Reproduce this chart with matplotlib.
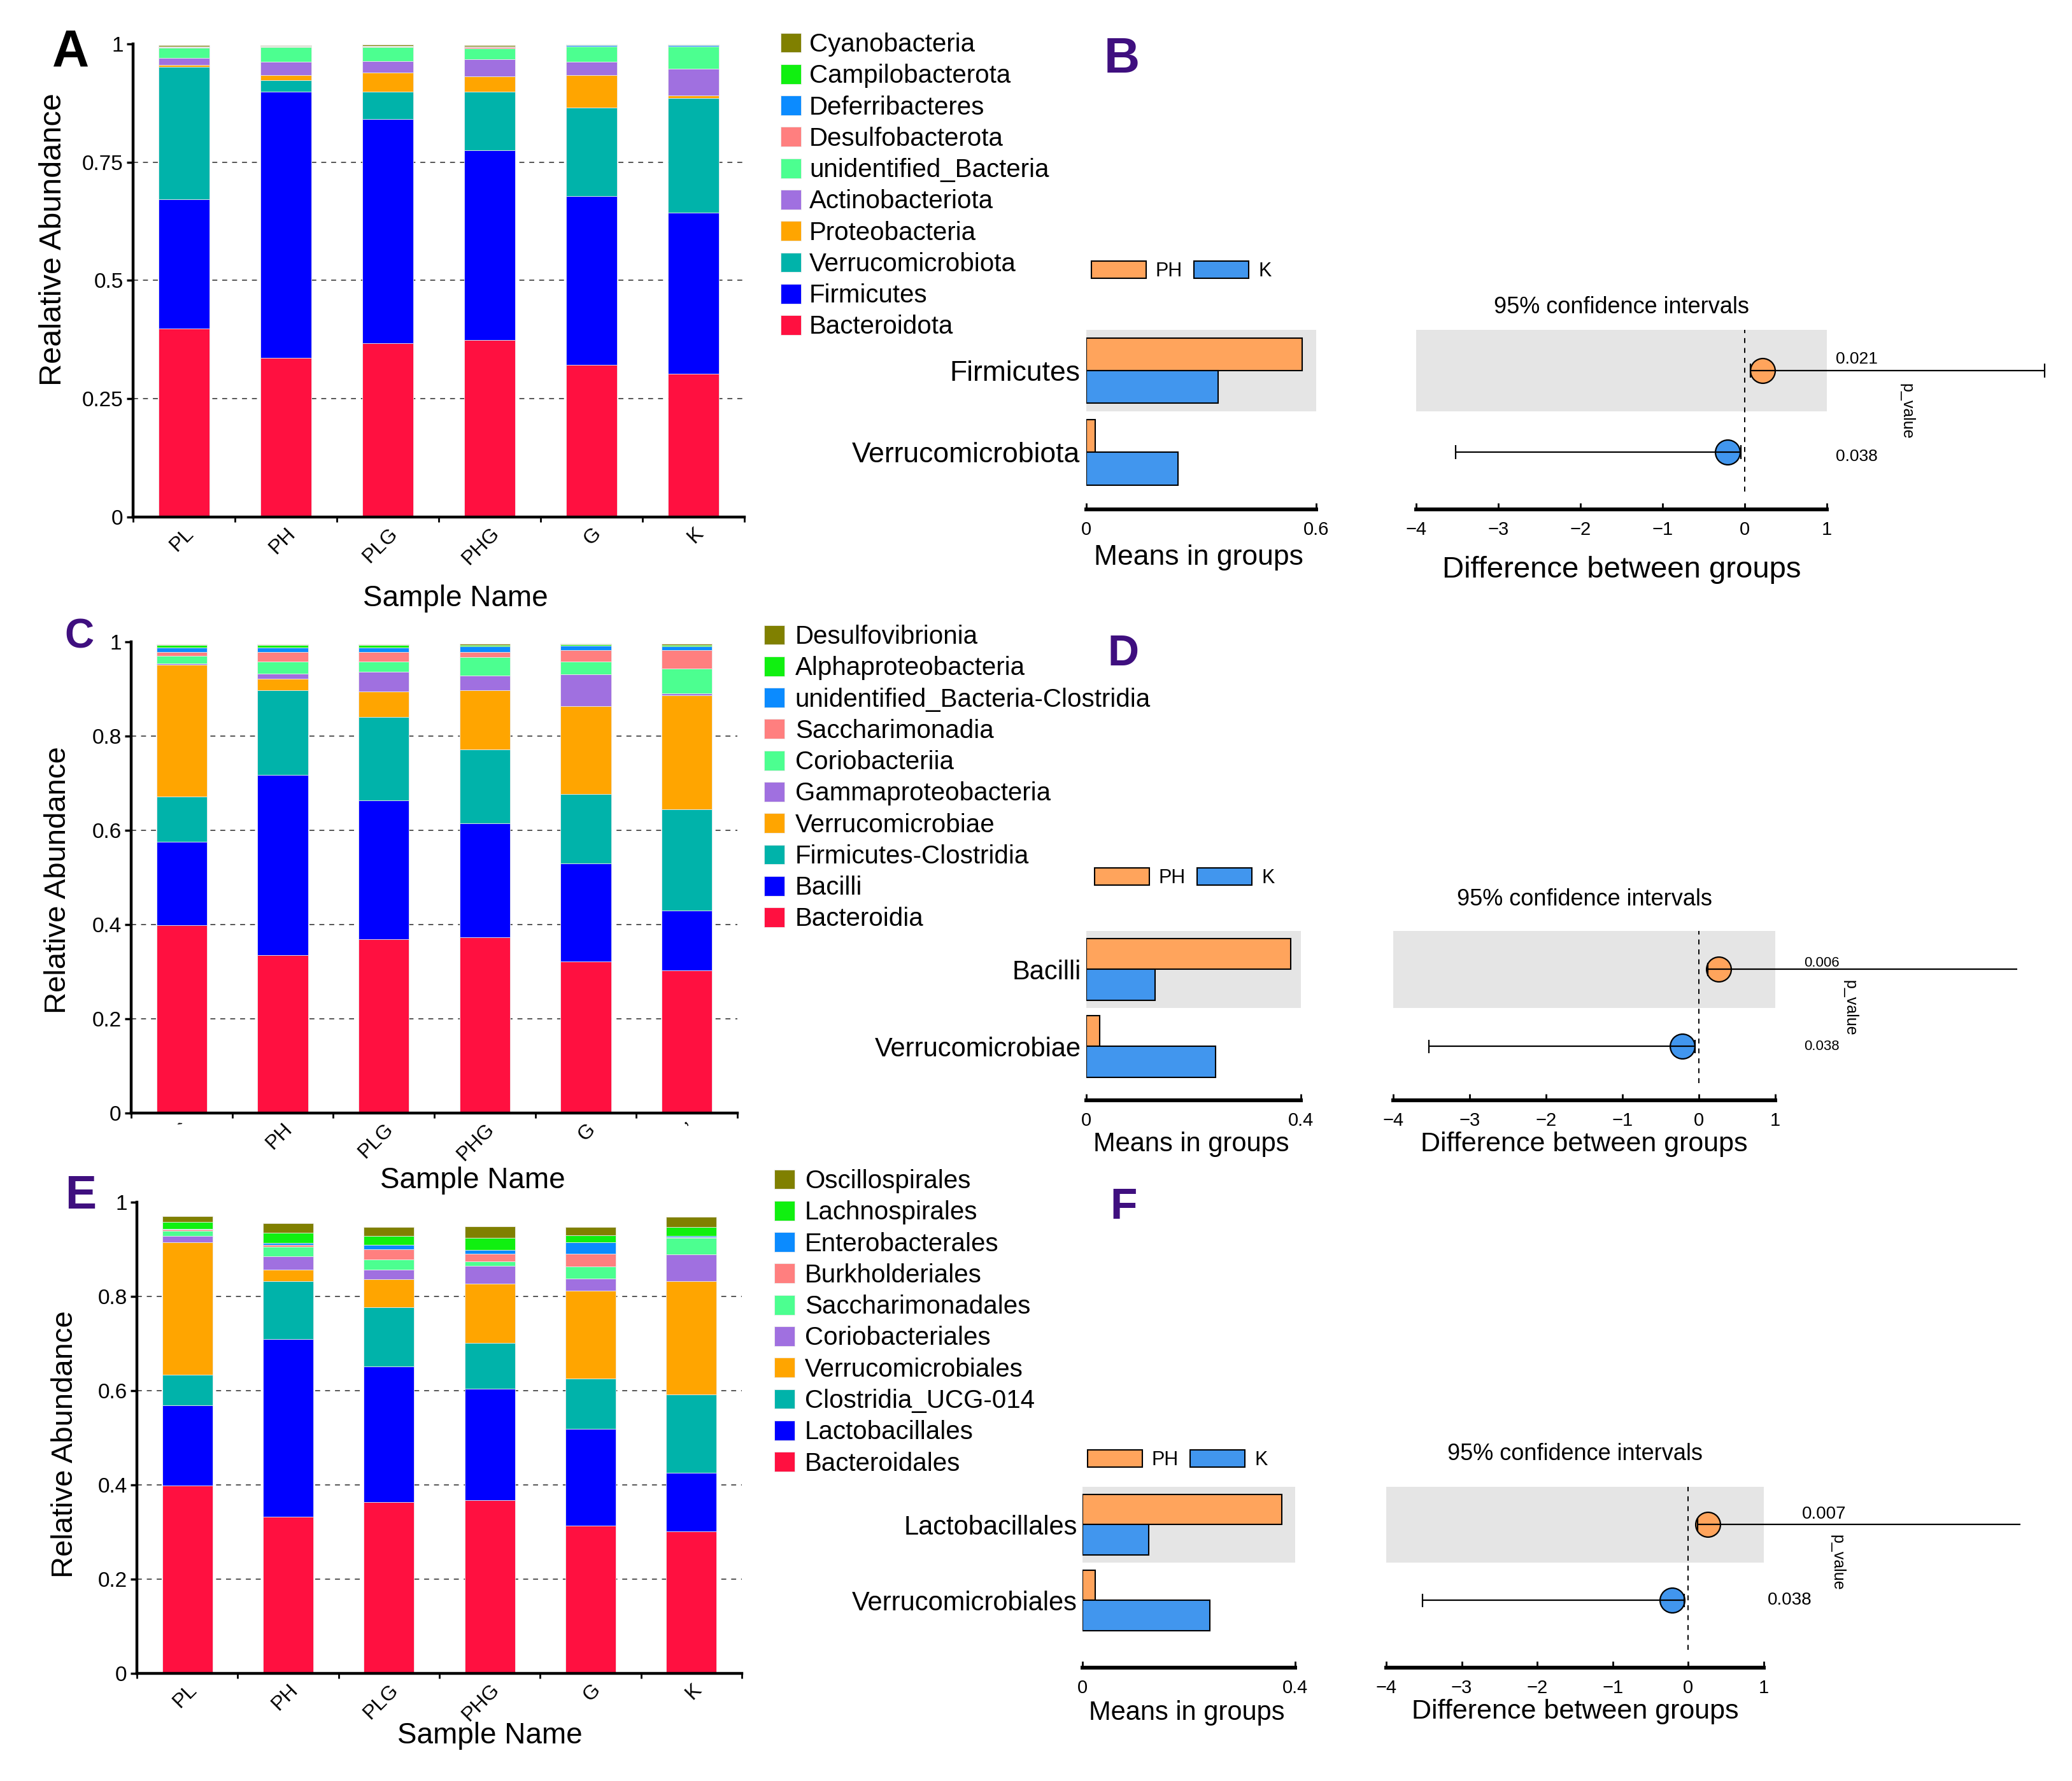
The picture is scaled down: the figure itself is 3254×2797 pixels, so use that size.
import numpy as np
import matplotlib
matplotlib.use('Agg')
import matplotlib.pyplot as plt
from matplotlib.patches import Patch
import matplotlib.transforms as mtransforms

plt.rcParams['font.family'] = ['Liberation Sans', 'DejaVu Sans']

W, H = 3255, 2797

# ---------------- data ----------------
samples = ['PL', 'PH', 'PLG', 'PHG', 'G', 'K']
samples_c = ['`', 'PH', 'PLG', 'PHG', 'G', 'ʼ']

palette = ['#FF1040', '#0000FF', '#00B3AA', '#FFA500', '#A070E0',
           '#4CFF90', '#FF7F7F', '#0B8BFF', '#10F010', '#808000']

# Panel A (phylum), bottom to top
A_names = ['Bacteroidota', 'Firmicutes', 'Verrucomicrobiota', 'Proteobacteria',
           'Actinobacteriota', 'unidentified_Bacteria', 'Desulfobacterota',
           'Deferribacteres', 'Campilobacterota', 'Cyanobacteria']
A_Bacteroidota = [0.399, 0.337, 0.368, 0.374, 0.322, 0.303]
A_Firmicutes = [0.273, 0.562, 0.473, 0.401, 0.357, 0.341]
A_Verrucomicrobiota = [0.279, 0.024, 0.058, 0.124, 0.186, 0.242]
A_Proteobacteria = [0.004, 0.011, 0.041, 0.033, 0.069, 0.005]
A_Actinobacteriota = [0.016, 0.028, 0.023, 0.036, 0.028, 0.056]
A_unidentified_Bacteria = [0.021, 0.031, 0.030, 0.023, 0.032, 0.047]
A_Desulfobacterota = [0.001, 0.001, 0.001, 0.002, 0.001, 0.001]
A_Deferribacteres = [0.001, 0.001, 0.001, 0.001, 0.002, 0.002]
A_Campilobacterota = [0.001, 0.001, 0.001, 0.001, 0.001, 0.001]
A_Cyanobacteria = [0.002, 0.001, 0.002, 0.002, 0.001, 0.001]

# Panel C (class)
C_names = ['Bacteroidia', 'Bacilli', 'Firmicutes-Clostridia', 'Verrucomicrobiae',
           'Gammaproteobacteria', 'Coriobacteriia', 'Saccharimonadia',
           'unidentified_Bacteria-Clostridia', 'Alphaproteobacteria', 'Desulfovibrionia']
C_Bacteroidia = [0.398, 0.335, 0.368, 0.373, 0.321, 0.303]
C_Bacilli = [0.177, 0.383, 0.296, 0.241, 0.209, 0.126]
C_Firmicutes_Clostridia = [0.096, 0.179, 0.176, 0.158, 0.147, 0.215]
C_Verrucomicrobiae = [0.280, 0.024, 0.054, 0.125, 0.187, 0.243]
C_Gammaproteobacteria = [0.003, 0.012, 0.043, 0.031, 0.067, 0.003]
C_Coriobacteriia = [0.016, 0.025, 0.021, 0.040, 0.027, 0.053]
C_Saccharimonadia = [0.009, 0.021, 0.021, 0.011, 0.025, 0.039]
C_unidentified_Bacteria_Clostridia = [0.009, 0.009, 0.009, 0.011, 0.009, 0.008]
C_Alphaproteobacteria = [0.005, 0.005, 0.005, 0.003, 0.002, 0.003]
C_Desulfovibrionia = [0.002, 0.002, 0.002, 0.003, 0.002, 0.003]

# Panel E (order)
E_names = ['Bacteroidales', 'Lactobacillales', 'Clostridia_UCG-014', 'Verrucomicrobiales',
           'Coriobacteriales', 'Saccharimonadales', 'Burkholderiales',
           'Enterobacterales', 'Lachnospirales', 'Oscillospirales']
E_Bacteroidales = [0.398, 0.333, 0.363, 0.367, 0.313, 0.302]
E_Lactobacillales = [0.171, 0.376, 0.288, 0.237, 0.206, 0.124]
E_Clostridia_UCG_014 = [0.065, 0.123, 0.126, 0.098, 0.107, 0.166]
E_Verrucomicrobiales = [0.281, 0.025, 0.059, 0.125, 0.186, 0.240]
E_Coriobacteriales = [0.013, 0.028, 0.021, 0.038, 0.026, 0.057]
E_Saccharimonadales = [0.011, 0.020, 0.021, 0.010, 0.025, 0.036]
E_Burkholderiales = [0.003, 0.005, 0.022, 0.015, 0.028, 0.001]
E_Enterobacterales = [0.001, 0.003, 0.009, 0.009, 0.024, 0.002]
E_Lachnospirales = [0.015, 0.022, 0.019, 0.026, 0.015, 0.019]
E_Oscillospirales = [0.012, 0.021, 0.019, 0.024, 0.017, 0.022]

# STAMP panels
B_cats = ['Firmicutes', 'Verrucomicrobiota']
B_PH = [0.563, 0.024]
B_K = [0.344, 0.239]
B_diff = [0.22, -0.21]
B_lo = [0.07, -3.52]
B_hi = [3.65, -0.05]
B_p = ['0.021', '0.038']

D_cats = ['Bacilli', 'Verrucomicrobiae']
D_PH = [0.381, 0.025]
D_K = [0.128, 0.241]
D_diff = [0.26, -0.22]
D_lo = [0.12, -3.53]
D_hi = [4.17, -0.05]
D_p = ['0.006', '0.038']

F_cats = ['Lactobacillales', 'Verrucomicrobiales']
F_PH = [0.375, 0.024]
F_K = [0.125, 0.239]
F_diff = [0.26, -0.21]
F_lo = [0.12, -3.52]
F_hi = [4.40, -0.05]
F_p = ['0.007', '0.038']

ORANGE = '#FFA45C'
BLUE = '#4196EE'
PURPLE = '#3F0F7F'

fig = plt.figure(figsize=(W / 100, H / 100), dpi=100)


def frac(x0, y0, x1, y1):
    return [x0 / W, 1 - y1 / H, (x1 - x0) / W, (y1 - y0) / H]


def stacked(rect, series, names, xlabels, yticks, yticklabels, ylabel,
            ylab_xy, xlab_xy, ylab_size, xlab_size, leg_xy, leg_pad):
    ax = fig.add_axes(rect)
    x = np.arange(len(samples))
    bottom = np.zeros(len(samples))
    handles = []
    for vals, col in zip(series, palette):
        v = np.array(vals)
        h = ax.bar(x, v, 0.5, bottom=bottom, color=col, edgecolor='#ececec',
                   linewidth=0.6, zorder=2)
        bottom = bottom + v
        handles.append(h)
    ax.set_xlim(-0.5, len(samples) - 0.5)
    ax.set_ylim(0, 1)
    for t in yticks[1:-1]:
        ax.axhline(t, color='#555555', lw=1.4, ls=(0, (4, 4)), zorder=1)
    ax.set_yticks(yticks)
    ax.set_yticklabels(yticklabels, fontsize=24)
    ax.set_xticks(x)
    ax.set_xticklabels(xlabels, fontsize=23, rotation=45, ha='right', va='top',
                       rotation_mode='anchor')
    ax.set_xticks(np.arange(-0.5, len(samples), 1.0), minor=True)
    ax.tick_params(axis='x', which='major', length=0, pad=8)
    ax.tick_params(axis='x', which='minor', length=6, width=2, direction='out')
    ax.tick_params(axis='y', length=7, width=2.5, direction='out', pad=4)
    for s in ['top', 'right']:
        ax.spines[s].set_visible(False)
    for s in ['left', 'bottom']:
        ax.spines[s].set_linewidth(3.2)
    ax.set_ylabel(ylabel, fontsize=ylab_size)
    ax.yaxis.label.set_va('baseline')
    ax.yaxis.set_label_coords(*ylab_xy)
    ax.set_xlabel('Sample Name', fontsize=xlab_size)
    ax.xaxis.label.set_va('baseline')
    ax.xaxis.set_label_coords(*xlab_xy)
    fig.legend(handles[::-1], names[::-1], loc='upper left',
               bbox_to_anchor=leg_xy, bbox_transform=fig.transFigure,
               frameon=False, fontsize=29, handlelength=0.8, handleheight=0.8,
               handletextpad=leg_pad, labelspacing=0.28, borderpad=0,
               borderaxespad=0)
    return ax


def stamp(rect_m, rect_d, cats, ph, k, diff, lo, hi, pv, xmax, ymin,
          cat_size, cat_pad, title_pad, p_pos, p_size, right_cap,
          mlab_y, dlab_y, lab_size, dlab_size, leg_xy):
    axm = fig.add_axes(rect_m)
    axd = fig.add_axes(rect_d)
    y = np.array([1.0, 0.0])
    for ax in (axm, axd):
        ax.axhspan(0.5, 1.5, color='#E5E5E5', lw=0, zorder=0)
        ax.set_ylim(ymin, 1.5)
        for s in ['top', 'right', 'left']:
            ax.spines[s].set_visible(False)
        ax.spines['bottom'].set_linewidth(4.3)
        ax.tick_params(axis='x', direction='in', length=7, width=2, pad=13,
                       labelsize=21)
    axm.barh(y + 0.2, ph, 0.4, color=ORANGE, edgecolor='black', lw=1.5, zorder=2)
    axm.barh(y - 0.2, k, 0.4, color=BLUE, edgecolor='black', lw=1.5, zorder=2)
    axm.set_xlim(0, xmax)
    axm.set_xticks([0, xmax])
    axm.set_xticklabels(['0', f'{xmax:g}'])
    axm.set_yticks(y)
    axm.set_yticklabels(cats, fontsize=cat_size)
    axm.tick_params(axis='y', length=0, pad=cat_pad)
    axm.set_xlabel('Means in groups', fontsize=lab_size)
    axm.xaxis.label.set_va('baseline')
    axm.xaxis.set_label_coords(0.49, mlab_y)
    axm.legend(handles=[Patch(facecolor=ORANGE, edgecolor='black', lw=1.5, label='PH'),
                        Patch(facecolor=BLUE, edgecolor='black', lw=1.5, label='K')],
               ncol=2, loc='lower left', bbox_to_anchor=leg_xy,
               bbox_transform=fig.transFigure, frameon=False, fontsize=22,
               handlelength=2.8, handleheight=1.0, handletextpad=0.5,
               columnspacing=0.6, borderpad=0, borderaxespad=0)

    axd.set_xlim(-4, 1)
    axd.set_xticks(range(-4, 2))
    axd.set_yticks([])
    axd.axvline(0, ymin=0.1, ymax=1.0, color='black', lw=1.4, ls=(0, (4, 4)), zorder=1)
    cols = [ORANGE if d > 0 else BLUE for d in diff]
    for i in range(len(y)):
        axd.plot([diff[i]], [y[i]], 'o', ms=28, mfc=cols[i], mec='black', mew=1.6,
                 zorder=3, clip_on=False)
        axd.hlines(y[i], lo[i], hi[i], color='black', lw=1.6, zorder=4, clip_on=False)
        axd.vlines([lo[i]], y[i] - 0.085, y[i] + 0.085, color='black', lw=1.6,
                   zorder=4, clip_on=False)
        if right_cap or hi[i] <= 1:
            axd.vlines([hi[i]], y[i] - 0.085, y[i] + 0.085, color='black', lw=1.6,
                       zorder=4, clip_on=False)
    axd.set_title('95% confidence intervals', fontsize=26, pad=title_pad)
    axd.set_xlabel('Difference between groups', fontsize=dlab_size)
    axd.xaxis.label.set_va('baseline')
    axd.xaxis.set_label_coords(0.5, dlab_y)
    tr = mtransforms.blended_transform_factory(axd.transAxes, axd.transData)
    for (px, py), t in zip(p_pos, pv):
        axd.text(px, py, t, transform=tr, fontsize=p_size, ha='left', va='center')
    axd.text(1.195, 0.5, 'p_value', transform=tr, fontsize=18, rotation=270,
             ha='center', va='center')
    return axm, axd


# ---------------- stacked bar panels ----------------
stacked(frac(209, 69, 1169, 812),
        [A_Bacteroidota, A_Firmicutes, A_Verrucomicrobiota, A_Proteobacteria,
         A_Actinobacteriota, A_unidentified_Bacteria, A_Desulfobacterota,
         A_Deferribacteres, A_Campilobacterota, A_Cyanobacteria],
        A_names, samples, [0, 0.25, 0.5, 0.75, 1], ['0', '0.25', '0.5', '0.75', '1'],
        'Realative Abundance', (-0.118, 0.587), (0.527, -0.188), 35, 33,
        (1226 / W, 1 - 51 / H), 0.32)

stacked(frac(206, 1008, 1158, 1747.6),
        [C_Bacteroidia, C_Bacilli, C_Firmicutes_Clostridia, C_Verrucomicrobiae,
         C_Gammaproteobacteria, C_Coriobacteriia, C_Saccharimonadia,
         C_unidentified_Bacteria_Clostridia, C_Alphaproteobacteria, C_Desulfovibrionia],
        C_names, samples_c, [0, 0.2, 0.4, 0.6, 0.8, 1],
        ['0', '0.2', '0.4', '0.6', '0.8', '1'],
        'Relative Abundance', (-0.108, 0.494), (0.563, -0.16), 34, 33,
        (1200 / W, 1 - 981 / H), 0.41)

stacked(frac(215, 1888, 1165, 2628),
        [E_Bacteroidales, E_Lactobacillales, E_Clostridia_UCG_014, E_Verrucomicrobiales,
         E_Coriobacteriales, E_Saccharimonadales, E_Burkholderiales,
         E_Enterobacterales, E_Lachnospirales, E_Oscillospirales],
        E_names, samples, [0, 0.2, 0.4, 0.6, 0.8, 1],
        ['0', '0.2', '0.4', '0.6', '0.8', '1'],
        'Relative Abundance', (-0.106, 0.486), (0.583, -0.148), 34, 33,
        (1216 / W, 1 - 1836 / H), 0.39)

# ---------------- STAMP panels ----------------
stamp(frac(1706, 518, 2067, 800), frac(2224, 518, 2869, 800),
      B_cats, B_PH, B_K, B_diff, B_lo, B_hi, B_p, 0.6, -0.7,
      32, 7, 19, [(1.022, 1.14), (1.022, -0.05)], 19, True,
      -0.31, -0.38, 32, 34, (1714 / W, 1 - 441 / H))

stamp(frac(1706, 1462, 2043, 1728), frac(2188, 1462, 2788, 1728),
      D_cats, D_PH, D_K, D_diff, D_lo, D_hi, D_p, 0.4, -0.7,
      30, 6, 29, [(1.075, 1.08), (1.075, 0.0)], 16, False,
      -0.3, -0.3, 30, 31, (1719 / W, 1 - 1394 / H))

stamp(frac(1700, 2335, 2034, 2619), frac(2177, 2335, 2770, 2619),
      F_cats, F_PH, F_K, F_diff, F_lo, F_hi, F_p, 0.4, -0.887,
      30, 6, 30, [(1.101, 1.14), (1.010, 0.0)], 20, False,
      -0.29, -0.28, 30, 31, (1708 / W, 1 - 2308 / H))

# ---------------- panel letters ----------------
letters = [('A', 111, 104, 58, 'black'), ('B', 1762, 114, 56, PURPLE),
           ('C', 124, 1017, 46, PURPLE), ('D', 1764, 1045, 49, PURPLE),
           ('E', 127, 1898, 53, PURPLE), ('F', 1765, 1914, 50, PURPLE)]
for t, x, yb, s, c in letters:
    fig.text(x / W, 1 - yb / H, t, fontsize=s, fontweight='bold', color=c,
             ha='center', va='baseline')

fig.savefig('out.png', dpi=100, facecolor='white')
